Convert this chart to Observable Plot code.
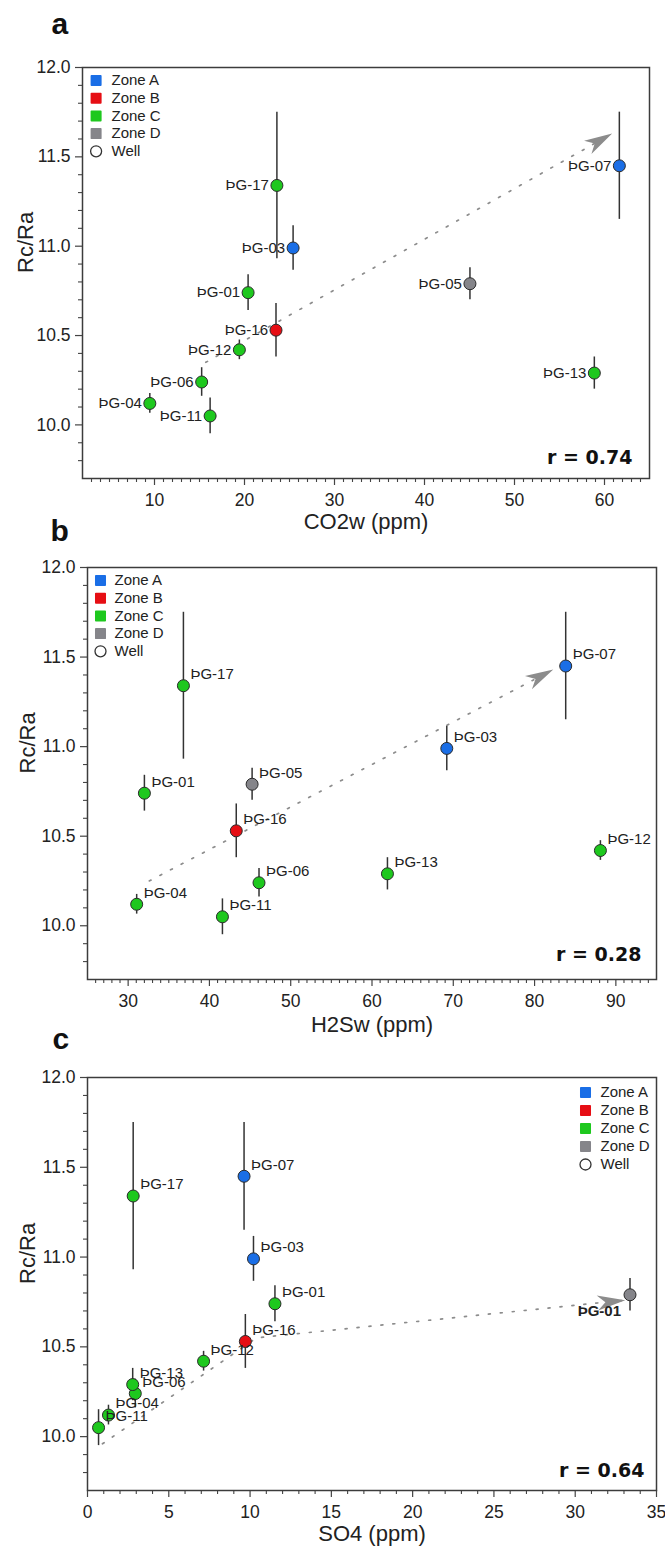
<!DOCTYPE html>
<html>
<head>
<meta charset="utf-8">
<script src="https://cdn.jsdelivr.net/npm/d3@7"></script>
<script src="https://cdn.jsdelivr.net/npm/@observablehq/plot@0.6"></script>
<style>
  html, body { margin: 0; padding: 0; background: #fff; }
  #wrap { position: relative; width: 665px; height: 1546px; overflow: hidden; }
  .panel { position: absolute; left: 0; }
</style>
</head>
<body>
<div id="wrap"></div>
<script>
// ---- data ----
const wells   = ["ÞG-07","ÞG-17","ÞG-03","ÞG-01","ÞG-05","ÞG-16","ÞG-12","ÞG-06","ÞG-04","ÞG-11","ÞG-13"];
const labelsC = ["ÞG-07","ÞG-17","ÞG-03","ÞG-01","ÞG-01","ÞG-16","ÞG-12","ÞG-06","ÞG-04","ÞG-11","ÞG-13"];
const zoneOf  = ["A","C","A","C","D","B","C","C","C","C","C"];
const rcra    = [11.45, 11.34, 10.99, 10.74, 10.79, 10.53, 10.42, 10.24, 10.12, 10.05, 10.29];
const rcraErr = [0.30, 0.41, 0.125, 0.10, 0.09, 0.15, 0.055, 0.08, 0.055, 0.10, 0.09];
const co2w    = [61.65, 23.6, 25.4, 20.4, 45.05, 23.5, 19.43, 15.24, 9.48, 16.18, 58.87];
const h2sw    = [83.83, 36.8, 69.2, 32.0, 45.25, 43.3, 88.1, 46.1, 31.05, 41.6, 61.9];
const so4     = [9.63, 2.81, 10.21, 11.53, 33.37, 9.71, 7.14, 2.94, 1.29, 0.68, 2.78];

const zones = ["A","B","C","D"];
const zoneNames = ["Zone A","Zone B","Zone C","Zone D"];
const zoneColors = ["#1a6ee6","#e60e14","#1ec81e","#85858a"];

const trendA = [{x: 15.7, y: 10.35}, {x: 60.85, y: 11.63}];
const trendB = [{x: 32.6, y: 10.25}, {x: 82.3, y: 11.43}];
const trendC = [{x: 0.92, y: 9.96}, {x: 10.4, y: 10.55}, {x: 33.08, y: 10.76}];

const rLabels = ["r = 0.74", "r = 0.28", "r = 0.64"];
const xLabels = ["CO2w (ppm)", "H2Sw (ppm)", "SO4 (ppm)"];
const yLabel = "Rc/Ra";
const yTicks = [10, 10.5, 11, 11.5, 12];
const xTicksA = [10, 20, 30, 40, 50, 60];
const xTicksB = [30, 40, 50, 60, 70, 80, 90];
const xTicksC = [0, 5, 10, 15, 20, 25, 30, 35];

const rows = wells.map((w, i) => ({
  well: w, labelC: labelsC[i], zone: zoneOf[i], y: rcra[i], e: rcraErr[i],
  co2: co2w[i], h2s: h2sw[i], so4: so4[i]
}));

// filled stealth arrowhead marker
function stealth() {
  const ns = "http://www.w3.org/2000/svg";
  const m = document.createElementNS(ns, "marker");
  m.setAttribute("viewBox", "-32 -10 34 20");
  m.setAttribute("markerWidth", 34);
  m.setAttribute("markerHeight", 20);
  m.setAttribute("markerUnits", "userSpaceOnUse");
  m.setAttribute("refX", 0);
  m.setAttribute("refY", 0);
  m.setAttribute("orient", "auto");
  m.setAttribute("overflow", "visible");
  const p = document.createElementNS(ns, "path");
  p.setAttribute("d", "M0,0L-28,-7.5L-20,0L-28,7.5Z");
  p.setAttribute("fill", "#8c8c8c");
  p.setAttribute("stroke", "none");
  p.setAttribute("stroke-dasharray", "none");
  m.appendChild(p);
  return m;
}

const yMinor = d3.range(98, 120).map(v => v / 10).filter(v => Math.abs(v * 2 - Math.round(v * 2)) > 1e-6);

function legendMarks(dxSq, dxTxt, dy0, step) {
  const marks = [];
  zones.forEach((z, i) => {
    marks.push(Plot.dot([z], {frameAnchor: "top-left", dx: dxSq, dy: dy0 + i * step, symbol: "square", r: 5.2,
      fill: zoneColors[i], stroke: zoneColors[i], strokeWidth: 1.8, strokeLinejoin: "round"}));
    marks.push(Plot.text([zoneNames[i]], {frameAnchor: "top-left", dx: dxTxt, dy: dy0 + i * step, textAnchor: "start",
      lineAnchor: "middle", fontSize: 15, fill: "#222"}));
  });
  marks.push(Plot.dot(["Well"], {frameAnchor: "top-left", dx: dxSq, dy: dy0 + 4 * step, r: 5.5, fill: "white", stroke: "#333", strokeWidth: 1.3}));
  marks.push(Plot.text(["Well"], {frameAnchor: "top-left", dx: dxTxt, dy: dy0 + 4 * step, textAnchor: "start",
    lineAnchor: "middle", fontSize: 15, fill: "#222"}));
  return marks;
}

function panel(c) {
  const xMinor = d3.range(Math.ceil(c.xDomain[0]) + (Number.isInteger(c.xDomain[0]) ? 1 : 0), c.xDomain[1], 1)
    .filter(v => !c.xMajor.includes(v));
  const labelMarks = c.labelMarks;
  return Plot.plot({
    width: 665, height: c.height,
    marginLeft: c.ml, marginRight: c.mr, marginTop: 67, marginBottom: c.mb,
    style: {background: "transparent", overflow: "visible", fontFamily: "'Liberation Sans', Arial, sans-serif", fontSize: "17.5px", color: "#222"},
    x: {domain: c.xDomain},
    y: {domain: [9.7, 12]},
    color: {domain: zones, range: zoneColors},
    marks: [
      Plot.axisX({ticks: c.xMajor, tickSize: 7, tickPadding: 8, label: null, stroke: "#444", strokeWidth: 1.2, fill: "#222"}),
      Plot.axisX({ticks: xMinor, tickSize: 4, tickFormat: () => "", label: null, stroke: "#444", strokeWidth: 1.1}),
      Plot.axisY({ticks: yTicks, tickSize: 7, tickPadding: 5, tickFormat: d3.format(".1f"), label: null, stroke: "#444", strokeWidth: 1.2, fill: "#222"}),
      Plot.axisY({ticks: yMinor, tickSize: 4, tickFormat: () => "", label: null, stroke: "#444", strokeWidth: 1.1}),
      Plot.frame({stroke: "#3c3c3c", strokeWidth: 1.5}),
      Plot.text([c.xLabel], {frameAnchor: "bottom", dy: c.xLabelDy, lineAnchor: "middle", fontSize: 22, fill: "#222"}),
      Plot.text([yLabel], {frameAnchor: "left", dx: c.yLabelDx, rotate: -90, lineAnchor: "middle", fontSize: 22, fill: "#222"}),
      Plot.text([c.letter], {frameAnchor: "top-left", dx: c.letterDx, dy: c.letterDy, lineAnchor: "bottom", textAnchor: "start",
        fontSize: 30, fontWeight: "bold", fill: "#111", fontFamily: "'Liberation Sans', Arial, sans-serif"}),
      Plot.ruleX(rows, {x: c.xKey, y1: d => d.y - d.e, y2: d => d.y + d.e, stroke: "#333", strokeWidth: 1.5}),
      Plot.line(c.trend, {x: "x", y: "y", stroke: "#8c8c8c", strokeWidth: 1.7, strokeDasharray: "2 10", markerEnd: stealth}),
      Plot.dot(rows, {x: c.xKey, y: "y", r: 6, fill: "zone", stroke: "#2a2a2a", strokeWidth: 1}),
      ...labelMarks,
      Plot.text([c.r], {frameAnchor: "bottom-right", dx: c.rDx, dy: c.rDy, textAnchor: "end", lineAnchor: "bottom",
        fontFamily: "'DejaVu Sans', sans-serif", fontWeight: "bold", fontSize: 19, fill: "#111"}),
      ...c.legend
    ]
  });
}

const wrap = document.getElementById("wrap");
function place(svg, top) {
  const d = document.createElement("div");
  d.className = "panel";
  d.style.top = top + "px";
  d.appendChild(svg);
  wrap.appendChild(d);
}

const lblFont = {fontSize: 15, fill: "#222"};

place(panel({
  xKey: "co2", xDomain: [2, 65], xMajor: xTicksA, xLabel: xLabels[0], r: rLabels[0], trend: trendA,
  height: 540, ml: 82, mr: 16, mb: 62, xLabelDy: 43, yLabelDx: -57,
  letter: "a", letterDx: -31, letterDy: -34, rDx: -17, rDy: -15,
  labelMarks: [Plot.text(rows, {x: "co2", y: "y", text: "well", textAnchor: "end", dx: -8, ...lblFont})],
  legend: legendMarks(13.6, 29, 13, 17.7)
}), 0);

place(panel({
  xKey: "h2s", xDomain: [25, 95], xMajor: xTicksB, xLabel: xLabels[1], r: rLabels[1], trend: trendB,
  height: 540, ml: 87, mr: 9, mb: 61, xLabelDy: 45, yLabelDx: -60,
  letter: "b", letterDx: -37, letterDy: -27, rDx: -15, rDy: -19,
  labelMarks: [Plot.text(rows, {x: "h2s", y: "y", text: "well", textAnchor: "start", dx: 7, dy: -11.5, ...lblFont})],
  legend: legendMarks(13, 27, 13, 17.7)
}), 500);

place(panel({
  xKey: "so4", xDomain: [0, 35], xMajor: xTicksC, xLabel: xLabels[2], r: rLabels[2], trend: trendC,
  height: 536, ml: 87, mr: 9, mb: 56, xLabelDy: 43, yLabelDx: -60,
  letter: "c", letterDx: -35, letterDy: -29, rDx: -12, rDy: -14,
  labelMarks: [
    Plot.text(rows.filter(d => d.zone !== "D"), {x: "so4", y: "y", text: "labelC", textAnchor: "start", dx: 7, dy: -11.5, ...lblFont}),
    Plot.text(rows.filter(d => d.zone === "D"), {x: "so4", y: "y", text: "labelC", textAnchor: "end", dx: -9, dy: 16, fontWeight: "bold", ...lblFont})
  ],
  legend: legendMarks(498, 513, 15, 18)
}), 1010);
</script>
</body>
</html>
